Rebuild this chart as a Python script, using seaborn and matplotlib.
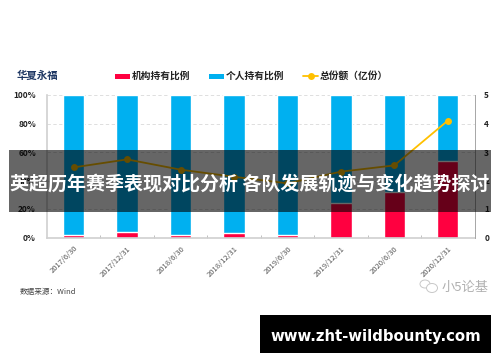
import matplotlib
matplotlib.use("Agg")
import matplotlib.pyplot as plt
from matplotlib.patches import Ellipse, Rectangle
import seaborn as sns
import pandas as pd

dates = ["2017/6/30", "2017/12/31", "2018/6/30", "2018/12/31", "2019/6/30", "2019/12/31", "2020/6/30", "2020/12/31"]
inst_pct = [1.5, 4, 1.5, 3.2, 1.5, 24.4, 32, 54]
total_pct = [100, 100, 100, 100, 100, 100, 100, 100]
shares = [2.46, 2.74, 2.38, 2.13, 1.9, 2.31, 2.53, 4.1]
left_ticks = ["0%", "20%", "40%", "60%", "80%", "100%"]
right_ticks = ["0", "1", "2", "3", "4", "5"]

W, H = 500, 362

sns.set_style("white")
plt.rcParams['font.family'] = ['Noto Sans CJK SC', 'DejaVu Sans']

df = pd.DataFrame({"date": dates, "inst": inst_pct, "total": total_pct, "shares": shares})

fig = plt.figure(figsize=(5, 3.62), dpi=100)
ax = fig.add_axes([47/W, 1-237.5/H, 427.5/W, 142.5/H])

# stacked bars: blue full height, red on top of it
sns.barplot(data=df, x="date", y="total", color="#00b0f0", width=0.4, saturation=1, ax=ax)
sns.barplot(data=df, x="date", y="inst", color="#ff0040", width=0.4, saturation=1, ax=ax)
ax.set_xlim(-0.5, 7.5)
ax.set_ylim(0, 100)
ax.set_xlabel("")
ax.set_ylabel("")
ax.yaxis.grid(True, color="#d9d9d9", linestyle=(0, (4, 3)), linewidth=0.6)
ax.set_axisbelow(True)
ax.set_yticks([0, 20, 40, 60, 80, 100])
ax.set_yticklabels(left_ticks, fontsize=6, fontweight="bold", color="#222222")
ax.set_xticks(range(8))
ax.set_xticklabels(dates, rotation=45, ha="right", rotation_mode="anchor", fontsize=5.5, color="#555555")
ax.tick_params(axis="x", length=0, pad=5)
ax.tick_params(axis="y", length=0, pad=8)
# little marks between the categories
ax.set_xticks([0.5, 1.5, 2.5, 3.5, 4.5, 5.5, 6.5], minor=True)
ax.tick_params(axis="x", which="minor", direction="in", length=2, width=0.5, color="#a6a6a6", bottom=True)
for s in ["top", "right"]:
    ax.spines[s].set_visible(False)
ax.spines["left"].set_color("#d0d0d0")
ax.spines["left"].set_linewidth(1.2)
ax.spines["bottom"].set_color("#d0d0d0")
ax.spines["bottom"].set_linewidth(1.2)

ax2 = ax.twinx()
sns.lineplot(data=df, x="date", y="shares", color="#ffc000", marker="o", markersize=5, markeredgewidth=0, linewidth=1.3, ax=ax2)
ax2.set_ylim(0, 5)
ax2.set_ylabel("")
ax2.set_xlabel("")
ax2.set_yticks([0, 1, 2, 3, 4, 5])
ax2.set_yticklabels(right_ticks, fontsize=6, fontweight="bold", color="#222222")
ax2.tick_params(axis="y", length=0, pad=7)
for s in ["top", "left", "bottom"]:
    ax2.spines[s].set_visible(False)
ax2.spines["right"].set_color("#a6a6a6")
ax2.spines["right"].set_linewidth(0.7)


def px(x, y):
    return x / W, 1 - y / H


def box(x0, y1, w, h, color, **kw):
    fig.add_artist(Rectangle(px(x0, y1), w/W, h/H, transform=fig.transFigure, facecolor=color, linewidth=0, **kw))


# header and legend
fig.text(*px(17, 76), "华夏永福", fontsize=7.5, fontweight="bold", color="#1f3864", va="center")
box(115, 79, 15, 5, "#ff0040")
fig.text(*px(132, 76), "机构持有比例", fontsize=7, fontweight="bold", color="#222222", va="center")
box(209, 79, 15, 5, "#00b0f0")
fig.text(*px(226, 76), "个人持有比例", fontsize=7, fontweight="bold", color="#222222", va="center")
fig.add_artist(plt.Line2D([303/W, 318/W], [1-76/H, 1-76/H], color="#ffc000", linewidth=1.3))
fig.add_artist(plt.Line2D([310.5/W], [1-76/H], color="#ffc000", marker="o", markersize=5, markeredgewidth=0))
fig.text(*px(320, 76), "总份额（亿份）", fontsize=7, fontweight="bold", color="#222222", va="center")

fig.text(*px(20, 292), "数据来源：Wind", fontsize=5.5, color="#444444", va="center")

# watermark
fig.add_artist(Ellipse(px(425, 284), 10/W, 8/H, transform=fig.transFigure, facecolor="white", edgecolor="#c8c8c8", linewidth=0.7))
fig.add_artist(Ellipse(px(432, 288), 11/W, 9/H, transform=fig.transFigure, facecolor="white", edgecolor="#c8c8c8", linewidth=0.7))
fig.text(*px(442, 287), "小5论基", fontsize=9.5, color="#b0b0b0", va="center")

# dark band and site banner on top of the chart
box(9, 212, 482, 62, "black", alpha=0.6, zorder=5)
fig.text(*px(250, 184), "英超历年赛季表现对比分析 各队发展轨迹与变化趋势探讨", fontsize=13.7, fontweight="bold", color="white", ha="center", va="center", zorder=6)
box(260, 353, 231, 38, "black", zorder=5)
fig.text(*px(375.5, 336), "www.zht-wildbounty.com", fontsize=10.7, fontweight="bold", color="white", ha="center", va="center", zorder=6, family="DejaVu Sans")

fig.savefig("out.png", dpi=100)
